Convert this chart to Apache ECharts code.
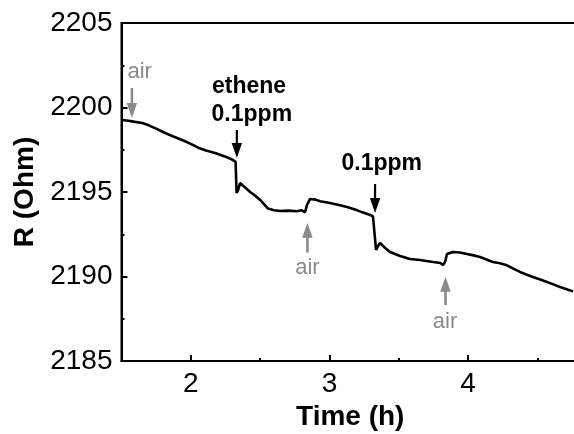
<!DOCTYPE html>
<html>
<head>
<meta charset="utf-8">
<script src="https://cdn.jsdelivr.net/npm/echarts@6/dist/echarts.min.js"></script>
<style>
html,body{margin:0;padding:0;background:#fff;}
#chart{width:574px;height:434px;}
</style>
</head>
<body>
<div id="chart"></div>
<script>
// ---- data ----
const times = [1.505,1.55,1.598,1.65,1.692,1.75,1.815,1.87,1.937,2.0,2.053,2.11,2.175,2.24,2.298,2.323,2.330,2.340,2.355,2.39,2.428,2.465,2.50,2.557,2.60,2.644,2.70,2.766,2.80,2.824,2.838,2.860,2.90,2.932,3.004,3.06,3.127,3.206,3.242,3.290,3.314,3.328,3.336,3.350,3.365,3.40,3.437,3.509,3.581,3.653,3.70,3.747,3.80,3.819,3.834,3.848,3.891,3.94,3.992,4.04,4.086,4.179,4.230,4.280,4.330,4.374,4.420,4.468,4.520,4.569,4.620,4.663,4.710,4.757];
const resistance = [2199.26,2199.22,2199.15,2199.08,2198.96,2198.75,2198.49,2198.30,2198.08,2197.85,2197.62,2197.45,2197.31,2197.12,2196.92,2196.78,2194.94,2195.10,2195.53,2195.28,2195.00,2194.78,2194.53,2194.02,2193.92,2193.88,2193.90,2193.86,2193.92,2193.80,2194.23,2194.59,2194.55,2194.45,2194.35,2194.25,2194.11,2193.90,2193.78,2193.66,2193.55,2193.45,2191.57,2191.80,2191.98,2191.70,2191.45,2191.21,2191.04,2190.98,2190.92,2190.86,2190.80,2190.68,2190.86,2191.33,2191.45,2191.42,2191.33,2191.25,2191.15,2190.86,2190.78,2190.66,2190.45,2190.27,2190.12,2189.97,2189.82,2189.67,2189.52,2189.38,2189.25,2189.12];

const xTickValues = [2, 3, 4];
const xMinorTickValues = [2.5, 3.5, 4.5];

// annotation arrows: time, tail value, tip value, kind (0 = air, 1 = gas)
const arrowTime = [1.575, 2.332, 3.329, 2.841, 3.837];
const arrowTail = [2201.15, 2198.67, 2195.47, 2191.41, 2188.31];
const arrowTip  = [2199.38, 2197.01, 2193.76, 2193.18, 2189.99];
const arrowKind = [0, 1, 1, 0, 0];

// annotation texts
const labelText = ['air', 'ethene', '0.1ppm', '0.1ppm', 'air', 'air'];
const labelTime = [1.631, 2.420, 2.440, 3.377, 2.841, 3.834];
const labelValue = [2202.08, 2201.21, 2199.57, 2196.67, 2190.52, 2187.33];
const labelKind = [0, 1, 1, 1, 0, 0];

// ---- styles ----
const FONT = '"Liberation Sans", Arial, Helvetica, sans-serif';
const GRAY = '#8a8a8a';
const kindColor = [GRAY, '#000'];

const chart = echarts.init(document.getElementById('chart'), null, {renderer: 'canvas'});

const axisCommonX = {
  type: 'value', min: 1.5, max: 4.8, position: 'bottom',
  splitLine: {show: false}
};

const option = {
  animation: false,
  backgroundColor: '#fff',
  grid: {
    left: 121.5, right: -5, top: 23, bottom: 73,
    outerBoundsMode: 'none',
    containLabel: false,
    show: true, borderColor: '#000', borderWidth: 2, backgroundColor: 'transparent'
  },
  xAxis: [
    Object.assign({}, axisCommonX, {
      name: 'Time (h)',
      nameLocation: 'middle',
      nameGap: 40,
      nameTextStyle: {fontFamily: FONT, fontSize: 28, fontWeight: 'bold', color: '#000'},
      axisLine: {show: true, lineStyle: {color: '#000', width: 2}},
      axisTick: {show: true, inside: true, length: 6, lineStyle: {color: '#000', width: 2}, customValues: xTickValues},
      axisLabel: {show: true, margin: 9, fontFamily: FONT, fontSize: 28, color: '#000', customValues: xTickValues,
        formatter: v => String(v)}
    }),
    Object.assign({}, axisCommonX, {
      axisLine: {show: false},
      axisTick: {show: true, inside: true, length: 3, lineStyle: {color: '#000', width: 2}, customValues: xMinorTickValues},
      axisLabel: {show: false}
    })
  ],
  yAxis: {
    type: 'value', min: 2185, max: 2205, interval: 5,
    name: 'R (Ohm)',
    nameLocation: 'middle',
    nameGap: 82,
    nameRotate: 90,
    nameTextStyle: {fontFamily: FONT, fontSize: 28, fontWeight: 'bold', color: '#000'},
    splitLine: {show: false},
    axisLine: {show: true, lineStyle: {color: '#000', width: 2}},
    axisTick: {show: true, inside: true, length: 6, lineStyle: {color: '#000', width: 2}},
    minorTick: {show: true, splitNumber: 2, length: 3, lineStyle: {color: '#000', width: 2}},
    axisLabel: {margin: 9, fontFamily: FONT, fontSize: 28, color: '#000', formatter: v => String(v)}
  },
  series: [
    {
      type: 'line',
      xAxisIndex: 0,
      data: times.map((t, i) => [t, resistance[i]]),
      showSymbol: false,
      lineStyle: {color: '#000', width: 2.6},
      z: 3
    },
    {
      type: 'custom',
      xAxisIndex: 0,
      data: arrowTime.map((t, i) => [t, arrowTail[i], arrowTip[i], arrowKind[i]]),
      renderItem: function (params, api) {
        const p0 = api.coord([api.value(0), api.value(1)]);
        const p1 = api.coord([api.value(0), api.value(2)]);
        const color = kindColor[api.value(3)];
        const dir = p1[1] > p0[1] ? 1 : -1;
        const head = 15, hw = 5.2;
        const base = p1[1] - dir * head;
        return {
          type: 'group',
          children: [
            {type: 'line', shape: {x1: p0[0], y1: p0[1], x2: p1[0], y2: base + dir * 1},
              style: {stroke: color, lineWidth: api.value(3) === 0 ? 2.6 : 2.2}},
            {type: 'polygon', shape: {points: [[p1[0] - hw, base], [p1[0] + hw, base], [p1[0], p1[1]]]},
              style: {fill: color}}
          ]
        };
      },
      z: 4
    },
    {
      type: 'custom',
      xAxisIndex: 0,
      data: labelTime.map((t, i) => [t, labelValue[i], labelKind[i]]),
      renderItem: function (params, api) {
        const p = api.coord([api.value(0), api.value(1)]);
        const kind = api.value(2);
        return {
          type: 'text',
          x: p[0], y: p[1],
          style: {
            text: labelText[params.dataIndex],
            fill: kindColor[kind],
            font: (kind === 1 ? 'bold 23px ' : '22px ') + FONT,
            align: 'center',
            verticalAlign: 'middle'
          }
        };
      },
      z: 5
    }
  ]
};

chart.setOption(option);
</script>
</body>
</html>
